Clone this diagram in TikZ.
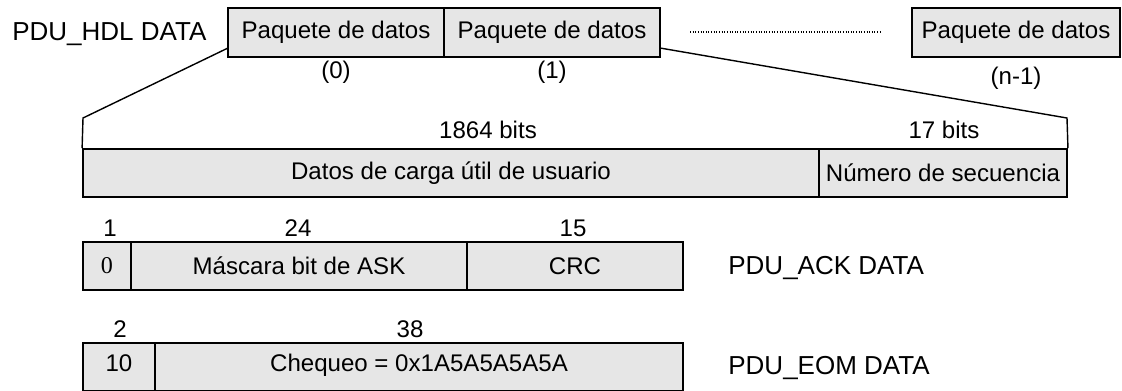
\documentclass[tikz,border=0pt]{standalone}
\usepackage{fontspec}
\setmainfont{Liberation Sans}
\newfontfamily\timesfont{Liberation Serif}
\definecolor{boxgray}{RGB}{230,230,230}

\begin{document}
\begin{tikzpicture}[x=0.02cm, y=-0.02cm,
   font=\fontsize{13.7}{16}\selectfont,
   field/.style={draw, fill=boxgray, line width=1.1pt, inner sep=0pt, minimum height=0.96cm},
   lowfield/.style={field, text depth=0.16cm},
   title/.style={anchor=base west, inner sep=0pt, font=\fontsize{14.8}{18}\selectfont},
   bits/.style={anchor=base, inner sep=0pt},
   zoomline/.style={line width=.8pt}]

   \useasboundingbox (0,0) rectangle (1122,390);

   \node[title] (hdl) at (12,40) {PDU\_HDL DATA};

   \node[field, minimum height=0.98cm, minimum width=4.32cm] (p0) at (336,32.5) {Paquete de datos};
   \node[field, minimum height=0.98cm, minimum width=4.32cm] (p1) at (552,32.5) {Paquete de datos};
   \node[field, minimum height=0.98cm, minimum width=4.16cm] (pn) at (1016,32.5) {Paquete de datos};

   \foreach \x/\y/\t/\n in {336/78/{(0)}/idx0, 552/78/{(1)}/idx1, 1016/84/{(n-1)}/idxn}
   \node[bits] (\n) at (\x,\y) {\t};

   \coordinate (dotA) at (690,32);
   \coordinate (dotB) at (880,32);
   \draw[line width=.6pt, dash pattern=on .5pt off 1pt] (dotA) -- (dotB);

   \node[bits] (b1864) at (488,138) {1864 bits};
   \node[bits] (b17) at (944,138) {17 bits};

   \node[field, minimum width=14.72cm] (carga) at (451,173) {Datos de carga útil de usuario};
   \node[field, minimum width=4.96cm] (secu) at (943,173) {Número de secuencia};

   \coordinate (tl) at (83,118);
   \coordinate (tr) at (1067,118);
   \coordinate (z0) at (228,48);
   \coordinate (z1) at (660,48);
   \draw[zoomline] (carga.north west) -- (tl) -- (z0);
   \draw[zoomline] (secu.north east) -- (tr) -- (z1);

   \foreach \x/\t [count=\i] in {110/1, 298/24, 573/15}
   \node[bits] (ackb\i) at (\x,236) {\t};

   \node[field, minimum width=0.96cm, font=\timesfont\fontsize{13.7}{16}\selectfont] (a0) at (107,266) {0};
   \node[field, minimum width=6.72cm] (a1) at (299,266) {Máscara bit de ASK};
   \node[field, minimum width=4.32cm] (a2) at (575,266) {CRC};

   \node[title] (ack) at (728,274) {PDU\_ACK DATA};

   \foreach \x/\t [count=\i] in {120/2, 410/38}
   \node[bits] (eomb\i) at (\x,337) {\t};

   \node[lowfield, minimum width=1.44cm] (e0) at (119,367) {10};
   \node[lowfield, minimum width=10.56cm] (e1) at (419,367) {Chequeo = 0x1A5A5A5A5A};

   \node[title] (eom) at (728,374) {PDU\_EOM DATA};

\end{tikzpicture}
\end{document}
